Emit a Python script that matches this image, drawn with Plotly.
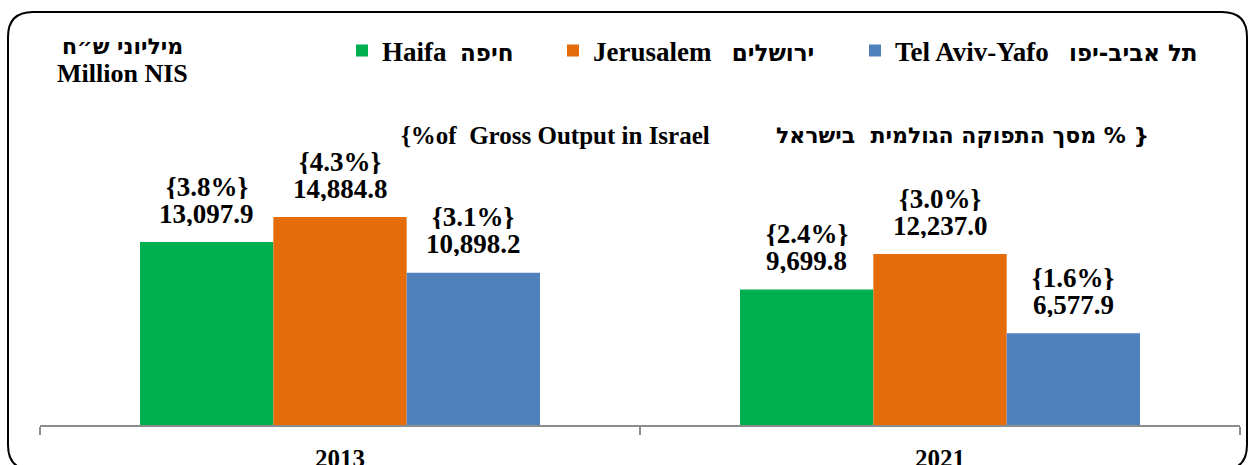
import plotly.graph_objects as go

# ---------------- data ----------------
years = ["2013", "2021"]
cities_en = ["Haifa", "Jerusalem", "Tel Aviv-Yafo"]
cities_he = ["חיפה", "ירושלים", "תל אביב-יפו"]
haifa = [13097.9, 9699.8]
jerusalem = [14884.8, 12237.0]
telaviv = [10898.2, 6577.9]
haifa_pct = [3.8, 2.4]
jerusalem_pct = [4.3, 3.0]
telaviv_pct = [3.1, 1.6]

series = [haifa, jerusalem, telaviv]
shares = [haifa_pct, jerusalem_pct, telaviv_pct]
colors = ["#00B050", "#E46C0A", "#4F81BD"]
gaps_en_he = [2, 3, 3]

W, H = 1249, 465
ML, MR, MT, MB = 40, 9, 100, 40
PW, PH = W - ML - MR, H - MT - MB
BARGAP = 1 / 3
SERIF = "Liberation Serif"
HEB = "DejaVu Sans"


def px(x):
    return (x - ML) / PW


def py(y):
    return (H - MB - y) / PH


fig = go.Figure()
legend_ids = ["legend", "legend2", "legend3"]
for j in range(3):
    name = ("<b>" + cities_en[j] + "</b>" + " " * gaps_en_he[j]
            + "<span style='font-family:" + HEB + ";font-size:23px'><b>"
            + cities_he[j] + "</b></span>")
    fig.add_trace(go.Bar(
        x=years, y=series[j], name=name, legend=legend_ids[j],
        marker=dict(color=colors[j], line=dict(width=0)),
        hoverinfo="skip",
    ))

bw = (1 - BARGAP) / 3
annotations = []
for j in range(3):
    for i in range(len(years)):
        xpos = i + (j - 1) * bw
        annotations.append(dict(
            x=xpos, y=series[j][i], xref="x", yref="y",
            text="<b>" + f"{series[j][i]:,.1f}" + "</b>",
            showarrow=False, yanchor="bottom", yshift=14.5, height=25,
            font=dict(family=SERIF, size=27, color="black")))
        annotations.append(dict(
            x=xpos, y=series[j][i], xref="x", yref="y",
            text="<b>{" + f"{shares[j][i]:.1f}" + "%}</b>",
            showarrow=False, yanchor="bottom", yshift=41.5, height=25,
            font=dict(family=SERIF, size=27, color="black")))

annotations += [
    dict(x=px(122), y=py(46), xref="paper", yref="paper", showarrow=False,
         text="<b>מיליוני ש״ח</b>", xanchor="center", yanchor="middle",
         font=dict(family=HEB, size=22, color="black")),
    dict(x=px(122), y=py(74), xref="paper", yref="paper", showarrow=False,
         text="<b>Million NIS</b>", xanchor="center", yanchor="middle",
         font=dict(family=SERIF, size=26, color="black")),
    dict(x=px(399), y=py(135), xref="paper", yref="paper", showarrow=False,
         text="<b>{%of  Gross Output in Israel</b>", xanchor="left", yanchor="middle",
         font=dict(family=SERIF, size=25, color="black")),
    dict(x=px(1151), y=py(135), xref="paper", yref="paper", showarrow=False,
         text="<b>\u200f{ % מסך התפוקה הגולמית  בישראל</b>", xanchor="right", yanchor="middle",
         font=dict(family=HEB, size=22, color="black")),
]

# rounded frame
r = 25
x0, x1, y0, y1 = 8, 1247, 12, 470
path = (f"M {px(x0)},{py(y0 + r)} L {px(x0)},{py(y1 - r)} "
        f"Q {px(x0)},{py(y1)} {px(x0 + r)},{py(y1)} "
        f"L {px(x1 - r)},{py(y1)} Q {px(x1)},{py(y1)} {px(x1)},{py(y1 - r)} "
        f"L {px(x1)},{py(y0 + r)} Q {px(x1)},{py(y0)} {px(x1 - r)},{py(y0)} "
        f"L {px(x0 + r)},{py(y0)} Q {px(x0)},{py(y0)} {px(x0)},{py(y0 + r)} Z")

legend_common = dict(orientation="h", yanchor="middle", y=py(51),
                     xanchor="left", bgcolor="rgba(0,0,0,0)",
                     font=dict(family=SERIF, size=27, color="black"))

fig.update_layout(
    width=W, height=H,
    margin=dict(l=ML, r=MR, t=MT, b=MB),
    paper_bgcolor="white", plot_bgcolor="white",
    barmode="group", bargap=BARGAP, bargroupgap=0,
    showlegend=True,
    legend=dict(x=px(342), **legend_common),
    legend2=dict(x=px(553), **legend_common),
    legend3=dict(x=px(855), **legend_common),
    xaxis=dict(type="category", showline=True, linecolor="#8c8c8c", linewidth=2,
               ticks="outside", tickson="boundaries", ticklen=8, tickwidth=2,
               tickcolor="#8c8c8c", showgrid=False, automargin=False,
               ticklabelstandoff=10,
               tickfont=dict(family=SERIF, size=25, color="black"),
               tickprefix="<b>", ticksuffix="</b>"),
    yaxis=dict(visible=False, range=[0, PH * 71.6], showgrid=False, automargin=False),
    annotations=annotations,
    shapes=[dict(type="path", xref="paper", yref="paper", path=path,
                 line=dict(color="black", width=2), layer="above")],
)

fig.write_html("out.html", config={"displayModeBar": False},
               post_script="document.body.style.margin='0px';document.body.style.overflow='hidden';")
